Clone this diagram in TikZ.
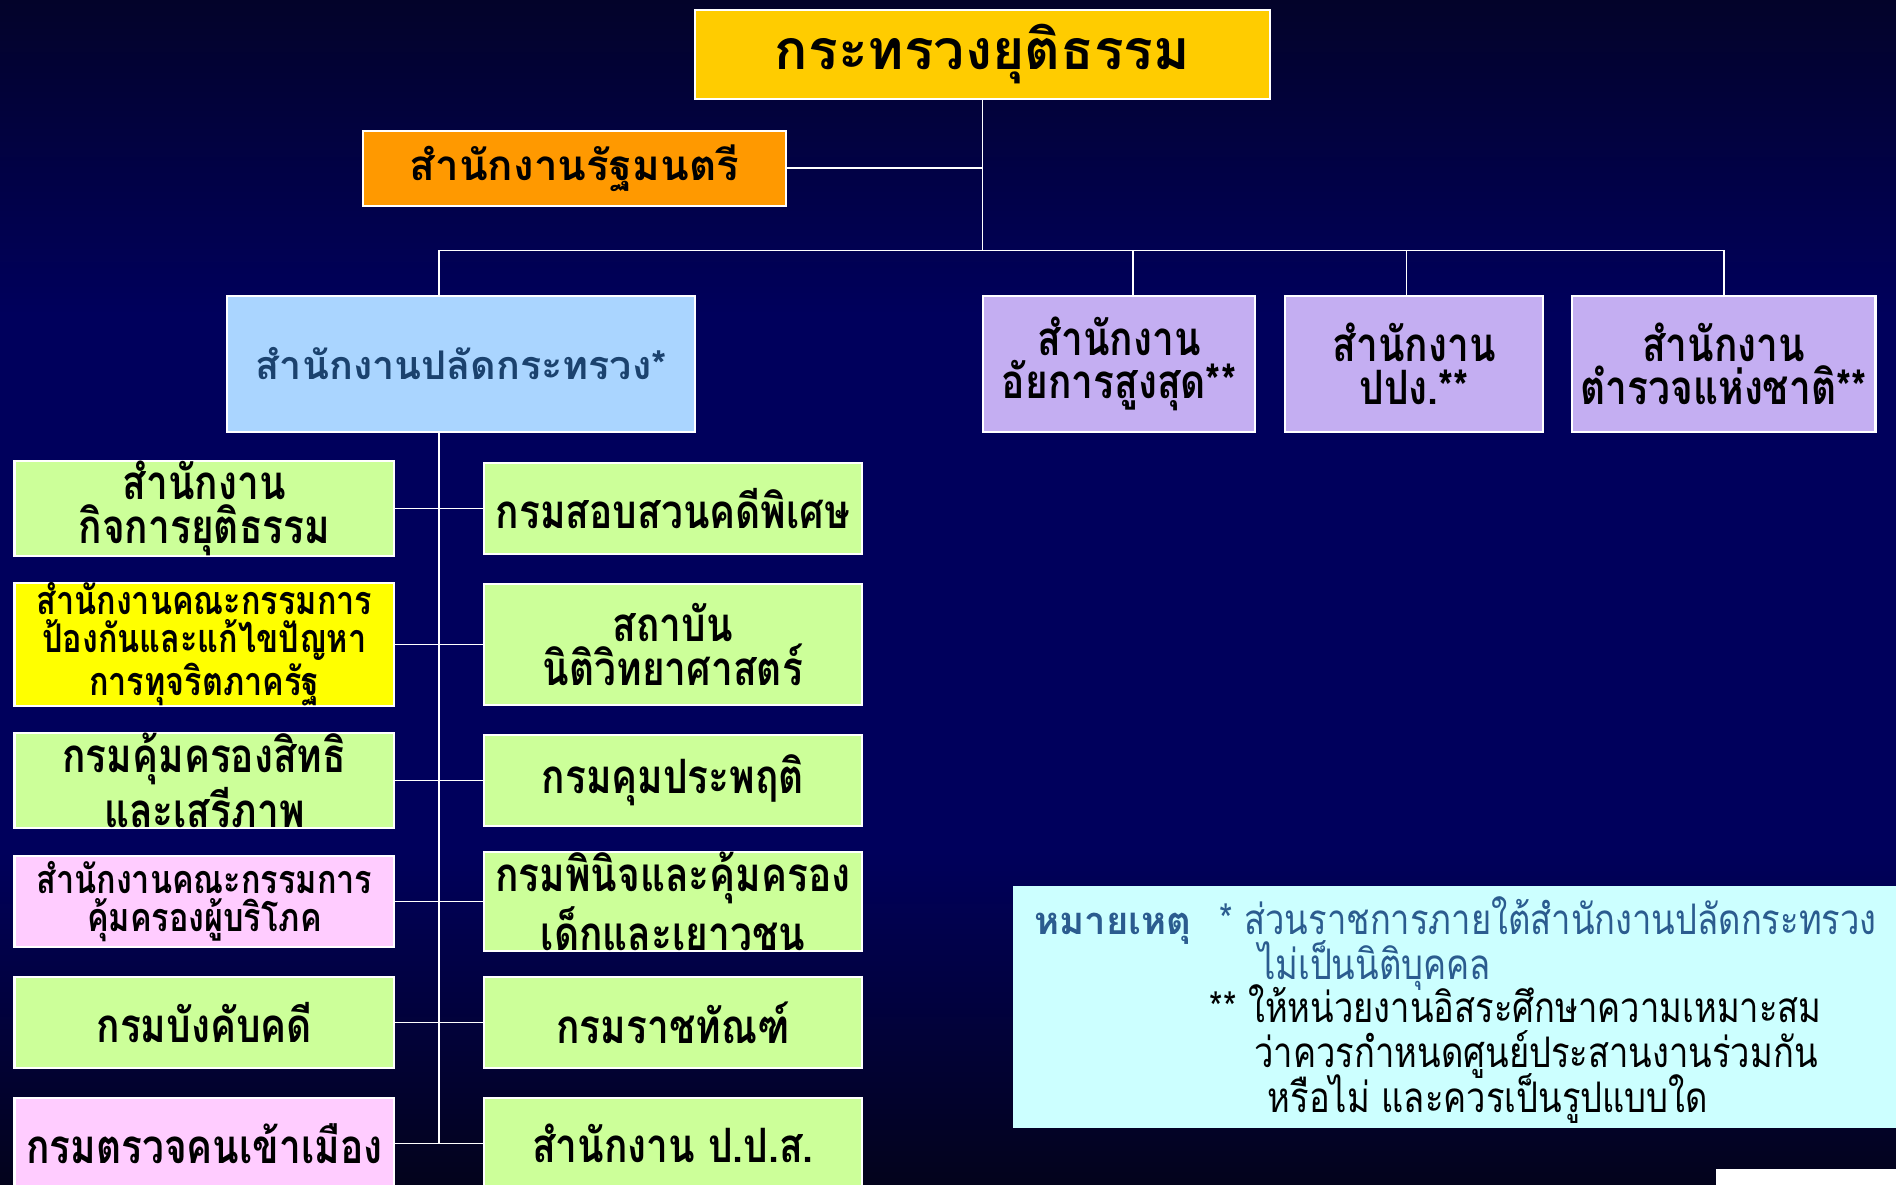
\documentclass[tikz,border=0pt]{standalone}
\usepackage{fontspec}
\newfontfamily\thaifont[Script=Thai]{Loma}
\newfontfamily\thaicond[Script=Thai,FakeStretch=0.82]{Loma}
\usepackage{tikz}
\usetikzlibrary{positioning}
\definecolor{bgtop}{HTML}{03032A}
\definecolor{bgmid}{HTML}{00005C}
\definecolor{bgbot}{HTML}{03031C}
\definecolor{ministry}{HTML}{FFCC00}
\definecolor{minister}{HTML}{FF9900}
\definecolor{permsec}{HTML}{AAD5FF}
\definecolor{permtext}{HTML}{1B426E}
\definecolor{indep}{HTML}{C4AEF2}
\definecolor{lgreen}{HTML}{CCFF99}
\definecolor{lyellow}{HTML}{FFFF00}
\definecolor{lpink}{HTML}{FFCCFF}
\definecolor{notefill}{HTML}{CCFFFF}
\definecolor{noteblue}{HTML}{2B5C8F}
\newcommand{\pxu}{0.4592pt}
\newcommand{\titlefont}{\thaifont\bfseries\fontsize{21}{25}\selectfont}
\newcommand{\headfont}{\thaifont\bfseries\fontsize{16}{20}\selectfont}
\newcommand{\permfont}{\thaifont\bfseries\fontsize{15}{19}\selectfont}
\newcommand{\boxfont}{\thaicond\bfseries\fontsize{18}{16.5}\selectfont}
\newcommand{\smallboxfont}{\thaicond\bfseries\fontsize{15}{14.5}\selectfont}
\newcommand{\notefont}{\thaicond\fontsize{16}{16}\selectfont}

\begin{document}
\begin{tikzpicture}[
  x=0.4592pt, y=-0.4592pt,
  box/.style={draw=white, line width=0.8pt, inner sep=0pt, align=center, text=black},
  link/.style={draw=white, line width=0.6pt},
  notetxt/.style={anchor=base west, inner sep=0pt, font=\notefont},
]
% --- Background ---
\useasboundingbox (0,0) rectangle (1568,980);
\shade[top color=bgtop, bottom color=bgmid] (0,0) rectangle (1568,260);
\fill[bgmid] (0,259) rectangle (1568,701);
\shade[top color=bgmid, bottom color=bgbot] (0,700) rectangle (1568,980);

% --- Top level ---
\node[box, fill=ministry, minimum width=475*\pxu, minimum height=74*\pxu, font=\titlefont] (ministry) at (812.5,45) {กระทรวงยุติธรรม};
\node[box, fill=minister, minimum width=350*\pxu, minimum height=62*\pxu, font=\headfont] (minister) at (475,139) {สำนักงานรัฐมนตรี};

% --- Second level ---
\node[box, fill=permsec, text=permtext, minimum width=387*\pxu, minimum height=112*\pxu, font=\permfont] (permsec) at (381.5,301) {สำนักงานปลัดกระทรวง*};
\node[box, fill=indep, minimum width=225*\pxu, minimum height=112*\pxu, font=\boxfont] (attorney) at (925.5,301) {สำนักงาน\\อัยการสูงสุด**};
\node[box, fill=indep, minimum width=213*\pxu, minimum height=112*\pxu, font=\boxfont] (amlo) at (1169.5,301) {สำนักงาน\\ปปง.**};
\node[box, fill=indep, minimum width=251*\pxu, minimum height=112*\pxu, font=\boxfont] (police) at (1425.5,301) {สำนักงาน\\ตำรวจแห่งชาติ**};

\coordinate (bus) at (363,207);
\coordinate (trunk) at (363,945);
\draw[link] (ministry.south) -- (ministry.south |- bus);
\draw[link] (minister.east) -- (minister.east -| ministry.south);
\draw[link] (bus) -- (bus -| police.north);
\draw[link] (bus) -- (bus |- permsec.north);
\foreach \n/\dx in {attorney/11.5, amlo/-6.5, police/0}{
  \draw[link] ([xshift=\dx*\pxu]\n.north |- bus) -- ([xshift=\dx*\pxu]\n.north);
}
\draw[link] (permsec.south -| trunk) -- (trunk);

% --- Departments under the permanent secretary ---
\foreach \i/\y/\h/\lc/\lf/\lt/\rt in {
  1/420.5/75/lgreen/\boxfont/{สำนักงาน\\กิจการยุติธรรม}/{กรมสอบสวนคดีพิเศษ},
  2/533/100/lyellow/\smallboxfont/{สำนักงานคณะกรรมการ\\ป้องกันและแก้ไขปัญหา\\การทุจริตภาครัฐ}/{สถาบัน\\นิติวิทยาศาสตร์},
  3/645.5/75/lgreen/\boxfont/{กรมคุ้มครองสิทธิ\\และเสรีภาพ}/{กรมคุมประพฤติ},
  4/745.5/75/lpink/\smallboxfont/{สำนักงานคณะกรรมการ\\คุ้มครองผู้บริโภค}/{กรมพินิจและคุ้มครอง\\เด็กและเยาวชน},
  5/845.5/75/lgreen/\boxfont/{กรมบังคับคดี}/{กรมราชทัณฑ์},
  6/945.5/75/lpink/\boxfont/{กรมตรวจคนเข้าเมือง}/{สำนักงาน ป.ป.ส.}}{
  \node[box, fill=\lc, minimum width=314*\pxu, minimum height=\h*\pxu, font=\lf] (dl\i) at (169,\y) {\lt};
  \node[box, fill=lgreen, minimum width=313*\pxu, minimum height=\h*\pxu, font=\boxfont] (dr\i) at (556.5,\y) {\rt};
  \draw[link] (dl\i.east) -- (dr\i.west);
}

% --- Note ---
\fill[notefill] (838,733) rectangle (1568,933);
\node[notetxt, text=noteblue, font=\thaifont\bfseries\fontsize{14.5}{16}\selectfont] (notehead) at (855,773) {หมายเหตุ};
\node[notetxt, text=noteblue] (note1) at (1008,773) {* ส่วนราชการภายใต้สำนักงานปลัดกระทรวง};
\node[notetxt, text=noteblue] (note2) at (1040,810) {ไม่เป็นนิติบุคคล};
\node[notetxt] (note3) at (1000,846) {** ให้หน่วยงานอิสระศึกษาความเหมาะสม};
\node[notetxt] (note4) at (1037,883) {ว่าควรกำหนดศูนย์ประสานงานร่วมกัน};
\node[notetxt] (note5) at (1048,920) {หรือไม่ และควรเป็นรูปแบบใด};

\fill[white] (1419,967) rectangle (1568,980);
\end{tikzpicture}
\end{document}
